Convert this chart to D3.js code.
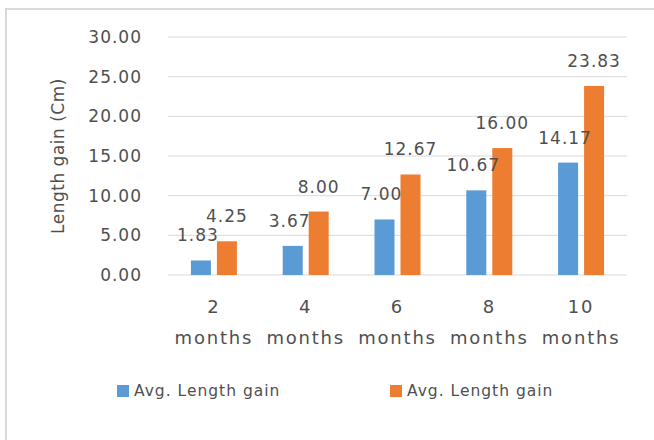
<!DOCTYPE html>
<html>
<head>
<meta charset="utf-8">
<script src="https://cdn.jsdelivr.net/npm/d3@7"></script>
<style>
  body { margin: 0; background: #fff; }
  text { font-family: "DejaVu Sans", sans-serif; fill: #505050; }
</style>
</head>
<body>
<div id="chart"></div>
<script>
const categories = ["2 months", "4 months", "6 months", "8 months", "10 months"];
const seriesNames = ["Avg. Length gain", "Avg. Length gain"];
const seriesA = [1.83, 3.67, 7.00, 10.67, 14.17];
const seriesB = [4.25, 8.00, 12.67, 16.00, 23.83];
const yTicks = [0, 5, 10, 15, 20, 25, 30];
const colors = ["#5b9bd5", "#ed7d31"];

const W = 654, H = 440;
const plot = { left: 168, right: 627, top: 37, bottom: 275 };

const svg = d3.select("#chart").append("svg")
    .attr("width", W)
    .attr("height", H);

// chart frame (runs past the right/bottom edges like the source)
svg.append("rect")
    .attr("x", 6).attr("y", 9)
    .attr("width", 700).attr("height", 500)
    .attr("fill", "#fff")
    .attr("stroke", "#d9d9d9")
    .attr("stroke-width", 2);

const y = d3.scaleLinear().domain([0, 30]).range([plot.bottom, plot.top]);
const x0 = d3.scaleBand().domain(categories).range([plot.left, plot.right]);
const x1 = d3.scaleBand().domain([0, 1]).range([0, 46]).paddingInner(0.23);
const off = (x0.bandwidth() - 46) / 2;

// gridlines
svg.append("g").selectAll("line")
    .data(yTicks)
    .enter().append("line")
    .attr("x1", plot.left).attr("x2", plot.right)
    .attr("y1", d => y(d)).attr("y2", d => y(d))
    .attr("stroke", "#d9d9d9")
    .attr("stroke-width", 1);

// y tick labels
svg.append("g").selectAll("text")
    .data(yTicks)
    .enter().append("text")
    .attr("x", 142)
    .attr("y", d => y(d) + 6)
    .attr("text-anchor", "end")
    .style("font-size", "17px")
    .style("letter-spacing", "1px")
    .text(d => d.toFixed(2));

// y title
svg.append("text")
    .attr("transform", `translate(64,${(plot.top + plot.bottom) / 2}) rotate(-90)`)
    .attr("text-anchor", "middle")
    .style("font-size", "17px")
    .style("letter-spacing", "0.5px")
    .text("Length gain (Cm)");

const rows = categories.map((c, i) => ({ cat: c, vals: [seriesA[i], seriesB[i]] }));

const groups = svg.append("g").selectAll("g")
    .data(rows)
    .enter().append("g")
    .attr("transform", d => `translate(${x0(d.cat) + off},0)`);

groups.selectAll("rect")
    .data(d => d.vals.map((v, s) => ({ v, s })))
    .enter().append("rect")
    .attr("x", d => x1(d.s))
    .attr("y", d => y(d.v))
    .attr("width", x1.bandwidth())
    .attr("height", d => plot.bottom - y(d.v))
    .attr("fill", d => colors[d.s]);

// data labels
groups.selectAll("text")
    .data(d => d.vals.map((v, s) => ({ v, s })))
    .enter().append("text")
    .attr("x", d => x1(d.s) + x1.bandwidth() / 2 - (d.s === 0 ? 3 : 0))
    .attr("y", d => y(d.v) - 19)
    .attr("text-anchor", "middle")
    .style("font-size", "17px")
    .style("letter-spacing", "1px")
    .text(d => d.v.toFixed(2));

// x category labels, two lines
const xl = svg.append("g").selectAll("text")
    .data(categories)
    .enter().append("text")
    .attr("text-anchor", "middle")
    .style("font-size", "18px")
    .style("letter-spacing", "1.8px");
xl.append("tspan")
    .attr("x", d => x0(d) + x0.bandwidth() / 2)
    .attr("y", 313)
    .text(d => d.split(" ")[0]);
xl.append("tspan")
    .attr("x", d => x0(d) + x0.bandwidth() / 2)
    .attr("y", 344)
    .text(d => d.split(" ")[1]);

// legend
const legendX = [117, 390];
const leg = svg.append("g").selectAll("g")
    .data(seriesNames)
    .enter().append("g")
    .attr("transform", (d, i) => `translate(${legendX[i]},385)`);
leg.append("rect")
    .attr("width", 12).attr("height", 12)
    .attr("fill", (d, i) => colors[i]);
leg.append("text")
    .attr("x", 17)
    .attr("y", 11)
    .style("font-size", "15.5px")
    .style("letter-spacing", "1px")
    .text(d => d);
</script>
</body>
</html>
